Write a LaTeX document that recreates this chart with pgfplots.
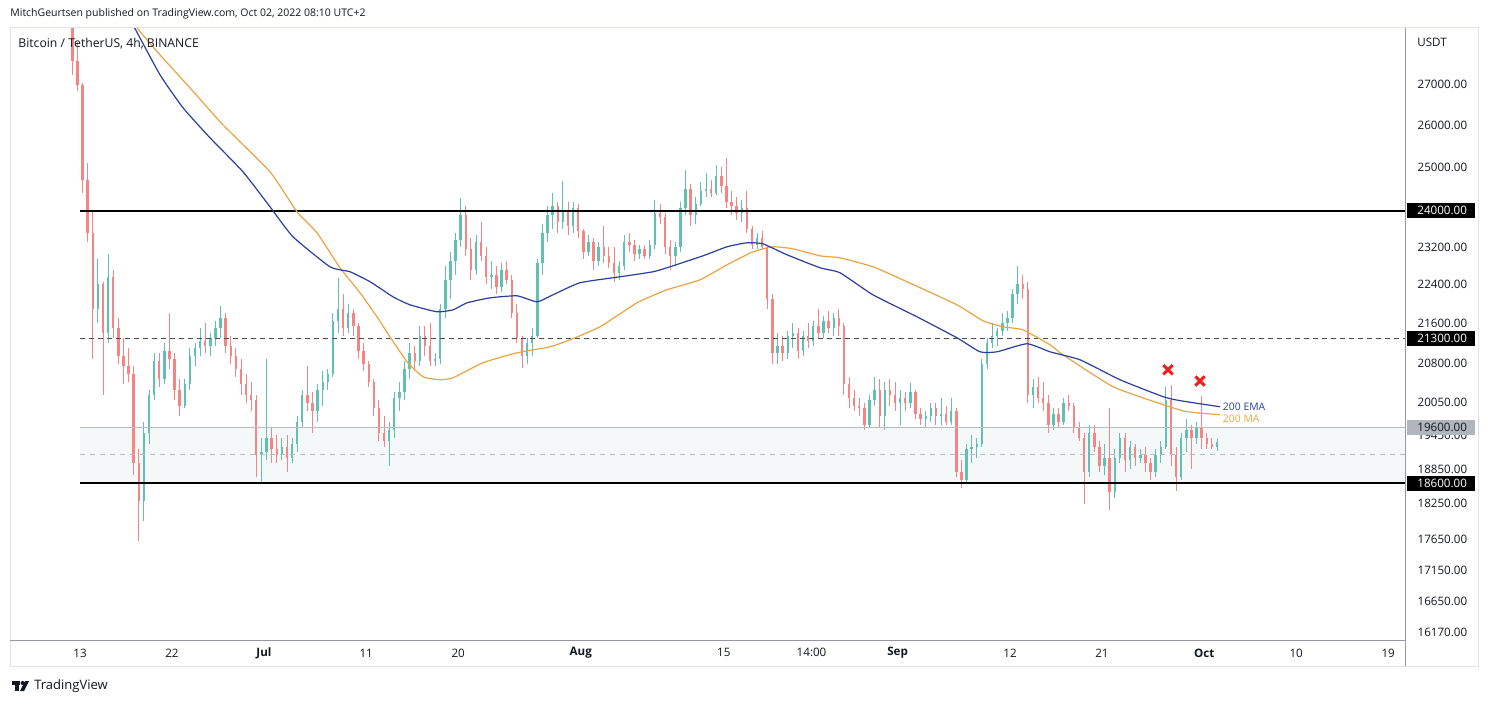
\documentclass[border=0pt]{standalone}
\usepackage{fontspec}
\setmainfont{Open Sans}
\usepackage{pgfplots}
\pgfplotsset{compat=1.18}
\usepackage{pgfplotstable}

\definecolor{upc}{HTML}{62C0B2}
\definecolor{dnc}{HTML}{F38585}
\definecolor{emac}{HTML}{2A3F9D}
\definecolor{mac}{HTML}{EBA444}
\definecolor{txt}{HTML}{131722}
\definecolor{sep}{HTML}{9598A1}
\definecolor{framec}{HTML}{E0E3EB}
\definecolor{zone}{HTML}{F5F8F8}
\definecolor{midline}{HTML}{B8BCC4}
\definecolor{xred}{HTML}{F01E1E}
\definecolor{boxgray}{HTML}{B2B5BE}

% 12h candles, t in days from Jun 13 00:00
\pgfplotstableread{
t o h l c
-1.25 29100 29300 28650 28700
-0.75 28700 28950 27250 27600
-0.25 27600 28100 26850 27000
0.25 27000 27050 24400 24700
0.75 24700 25100 23300 23500
1.25 23500 24000 20900 21900
1.75 21900 22950 21600 22400
2.25 22400 22450 20200 21400
2.75 21400 23050 21200 22550
3.25 22550 22700 21300 21500
3.75 21500 21700 20800 20950
4.25 20950 21300 20400 20750
4.75 20750 21100 20450 20600
5.25 20600 20750 18750 18950
5.75 18950 19200 17620 18300
6.25 18300 19700 17950 19500
6.75 19500 20300 19300 20200
7.25 20200 21000 20100 20850
7.75 20850 21000 20350 20500
8.25 20500 21200 20400 21050
8.75 21050 21800 20700 20900
9.25 20900 21000 20100 20300
9.75 20300 20500 19800 20000
10.25 20000 20500 19950 20400
10.75 20400 21100 20300 20950
11.25 20950 21200 20750 21100
11.75 21100 21500 20950 21250
12.25 21250 21600 21000 21150
12.75 21150 21400 20950 21300
13.25 21300 21650 21150 21500
13.75 21500 21950 21300 21700
14.25 21700 21800 21000 21150
14.75 21150 21350 20800 20950
15.25 20950 21100 20550 20700
15.75 20700 20900 20200 20400
16.25 20400 20600 20050 20200
16.75 20200 20450 19900 20100
17.25 20100 20200 18700 19100
17.75 19100 19400 18620 19150
18.25 19150 20900 19000 19400
18.75 19400 19600 18950 19200
19.25 19200 19450 18950 19100
19.75 19100 19400 19000 19250
20.25 19250 19450 18800 19050
20.75 19050 19400 18950 19300
21.25 19300 19800 19150 19700
21.75 19700 20300 19600 20200
22.25 20200 20750 19900 20050
22.75 20050 20250 19500 19900
23.25 19900 20400 19700 20300
23.75 20300 20650 20000 20450
24.25 20450 20700 20300 20600
24.75 20600 21800 20550 21650
25.25 21650 22530 21400 21900
25.75 21900 22200 21350 21500
26.25 21500 22000 21400 21800
26.75 21800 21900 21350 21550
27.25 21550 21600 20900 21050
27.75 21050 21200 20650 20800
28.25 20800 20850 20350 20450
28.75 20450 20500 19800 19950
29.25 19950 20100 19350 19500
29.75 19500 19800 19250 19350
30.25 19350 19700 18910 19550
30.75 19550 20250 19400 20150
31.25 20150 20450 19900 20250
31.75 20250 20850 20100 20700
32.25 20700 21200 20500 21000
32.75 21000 21150 20650 20850
33.25 20850 21550 20750 21350
33.75 21350 21550 20950 21150
34.25 21150 21600 20750 20850
34.75 20850 21000 20750 20900
35.25 20900 22000 20800 21900
35.75 21900 22800 21700 22500
36.25 22500 23100 22100 22900
36.75 22900 23500 22600 23350
37.25 23350 24280 23200 23900
37.75 23900 24100 23000 23150
38.25 23150 23400 22500 22700
38.75 22700 23450 22600 23300
39.25 23300 23750 22900 23000
39.75 23000 23200 22400 22550
40.25 22550 22900 22300 22600
40.75 22600 22800 22200 22350
41.25 22350 22850 22250 22700
41.75 22700 22900 22400 22500
42.25 22500 22600 21700 21800
42.75 21800 22000 21200 21300
43.25 21300 21350 20710 20950
43.75 20950 21300 20800 21200
44.25 21200 21500 20950 21350
44.75 21350 22950 21300 22850
45.25 22850 23700 22600 23500
45.75 23500 24100 23300 23900
46.25 23900 24400 23600 24100
46.75 24100 24200 23500 23750
47.25 23750 24670 23600 24000
47.75 24000 24200 23450 23650
48.25 23650 24200 23500 24050
48.75 24050 24150 23400 23550
49.25 23550 23600 22950 23100
49.75 23100 23450 23000 23300
50.25 23300 23400 22700 22900
50.75 22900 23300 22800 23200
51.25 23200 23650 22850 23000
51.75 23000 23200 22750 22850
52.25 22850 23200 22450 22650
52.75 22650 22900 22500 22800
53.25 22800 23450 22700 23300
53.75 23300 23500 23100 23250
54.25 23250 23350 22900 23050
54.75 23050 23250 22950 23150
55.25 23150 23250 22950 23000
55.75 23000 23350 22950 23250
56.25 23250 24250 23150 23950
56.75 23950 24150 23700 23850
57.25 23850 23950 23050 23200
57.75 23200 23350 22700 23000
58.25 23000 23300 22800 23200
58.75 23200 24200 23100 24050
59.25 24050 24920 23900 24500
59.75 24500 24600 23650 23900
60.25 23900 24300 23700 24150
60.75 24150 24650 24100 24450
61.25 24450 24850 24300 24500
61.75 24500 24700 24300 24400
62.25 24400 25050 24350 24800
62.75 24800 25000 24400 24550
63.25 24550 25210 24050 24200
63.75 24200 24450 23900 24100
64.25 24100 24300 23800 23950
64.75 23950 24250 23750 24050
65.25 24050 24450 23500 23600
65.75 23600 23650 23150 23250
66.25 23250 23500 23150 23400
66.75 23400 23550 23150 23200
67.25 23200 23250 21900 22100
67.75 22100 22200 20800 21000
68.25 21000 21400 20800 21150
68.75 21150 21350 20850 21000
69.25 21000 21450 20900 21350
69.75 21350 21600 21100 21400
70.25 21400 21500 20900 21050
70.75 21050 21450 20950 21350
71.25 21350 21600 21100 21250
71.75 21250 21650 21150 21550
72.25 21550 21900 21300 21400
72.75 21400 21750 21300 21650
73.25 21650 21850 21400 21500
73.75 21500 21800 21350 21700
74.25 21700 21900 21350 21550
74.75 21550 21600 20200 20400
75.25 20400 20550 19950 20150
75.75 20150 20300 19900 20000
76.25 20000 20150 19800 19950
76.75 19950 20050 19550 19650
77.25 19650 20200 19600 20100
77.75 20100 20550 20000 20300
78.25 20300 20500 19600 19800
78.75 19800 20450 19550 20300
79.25 20300 20500 20000 20200
79.75 20200 20450 19900 20050
80.25 20050 20300 19650 20150
80.75 20150 20250 19900 20050
81.25 20050 20430 19950 20250
81.75 20250 20300 19750 19850
82.25 19850 19950 19650 19750
82.75 19750 19900 19600 19800
83.25 19800 20050 19700 19950
83.75 19950 20050 19650 19800
84.25 19800 20150 19650 19850
84.75 19850 20000 19650 19700
85.25 19700 20150 19650 19900
85.75 19900 19950 18700 18800
86.25 18800 19000 18510 18650
86.75 18650 19300 18600 19200
87.25 19200 19450 18950 19250
87.75 19250 19400 19050 19300
88.25 19300 20900 19250 20800
88.75 20800 21300 20700 21200
89.25 21200 21600 21100 21350
89.75 21350 21500 21150 21450
90.25 21450 21800 21350 21600
90.75 21600 21850 21450 21700
91.25 21700 22300 21600 22200
91.75 22200 22800 22000 22400
92.25 22400 22600 22100 22300
92.75 22300 22450 20050 20200
93.25 20200 20500 19950 20350
93.75 20350 20550 20050 20150
94.25 20150 20450 19900 20050
94.75 20050 20200 19500 19650
95.25 19650 19950 19550 19850
95.75 19850 19950 19600 19700
96.25 19700 20150 19650 20050
96.75 20050 20200 19900 20000
97.25 20000 20050 19500 19600
97.75 19600 19700 19350 19400
98.25 19400 19500 18250 18800
98.75 18800 19650 18700 19500
99.25 19500 19650 19150 19250
99.75 19250 19350 18800 18900
100.25 18900 19300 18750 19050
100.75 19050 19960 18130 18450
101.25 18450 19200 18350 19050
101.75 19050 19500 18950 19400
102.25 19400 19500 18800 19000
102.75 19000 19350 18850 19250
103.25 19250 19300 18900 19050
103.75 19050 19200 18950 19100
104.25 19100 19250 18800 18950
104.75 18950 19050 18650 18800
105.25 18800 19200 18700 19100
105.75 19100 19350 18950 19250
106.25 19250 20350 19200 20100
106.75 20100 20380 18900 19100
107.25 19100 19250 18470 18700
107.75 18700 19500 18650 19400
108.25 19400 19750 19150 19550
108.75 19550 19650 18850 19400
109.25 19400 19700 19300 19600
109.75 19600 20185 19200 19400
110.25 19400 19500 19200 19300
110.75 19300 19400 19200 19250
111.25 19250 19380 19180 19330
}\candles

\begin{document}
\begin{tikzpicture}[x=1pt,y=1pt]
\fill[white] (0,0) rectangle (744,351.5);
\begin{axis}[
    at={(5pt,31.5pt)}, anchor=south west,
    scale only axis, width=697.5pt, height=306pt,
    xmin=-6.85, xmax=129.65,
    ymode=log, ymin=16063, ymax=28479,
    axis line style={draw=none},
    tick style={draw=none}, major tick length=0pt,
    minor ytick={},
    xtick={0,9,18,28,37,49,63,71.58,80,91,100,110,119,128},
    xticklabels={13,22,\textbf{Jul},11,20,\textbf{Aug},15,14:00,\textbf{Sep},12,21,\textbf{Oct},10,19},
    ytick={16170,16650,17150,17650,18250,18850,19450,20050,20800,21600,22400,23200,25000,26000,27000},
    yticklabels={16170.00,16650.00,17150.00,17650.00,18250.00,18850.00,\raisebox{-2.2pt}{19450.00},20050.00,20800.00,21600.00,22400.00,23200.00,25000.00,26000.00,27000.00},
    yticklabel pos=right,
    xticklabel style={font=\fontsize{5.8}{6}\selectfont, text=txt, anchor=center, yshift=-6.5pt},
    yticklabel style={font=\fontsize{5.8}{6}\selectfont, text=txt, anchor=west, xshift=2.8pt},
]
% support / resistance zone
\addplot[fill=zone, draw=none] coordinates {(0,18600) (129.65,18600) (129.65,19600) (0,19600)} -- cycle;

% wicks
\addplot[draw=none, mark=none, restrict expr to domain={\thisrow{c}-\thisrow{o}}{0:1000000},
    error bars/.cd, y dir=plus, y explicit, error mark=none,
    error bar style={draw=upc, line width=0.45pt}]
    table[x=t, y=l, y error expr=\thisrow{h}-\thisrow{l}] {\candles};
\addplot[draw=none, mark=none, restrict expr to domain={\thisrow{c}-\thisrow{o}}{-1000000:-0.5},
    error bars/.cd, y dir=plus, y explicit, error mark=none,
    error bar style={draw=dnc, line width=0.45pt}]
    table[x=t, y=l, y error expr=\thisrow{h}-\thisrow{l}] {\candles};
% bodies
\addplot[draw=none, mark=none, restrict expr to domain={\thisrow{c}-\thisrow{o}}{0:1000000},
    error bars/.cd, y dir=plus, y explicit, error mark=none,
    error bar style={draw=upc, line width=1.2pt}]
    table[x=t, y=o, y error expr=\thisrow{c}-\thisrow{o}] {\candles};
\addplot[draw=none, mark=none, restrict expr to domain={\thisrow{c}-\thisrow{o}}{-1000000:-0.5},
    error bars/.cd, y dir=plus, y explicit, error mark=none,
    error bar style={draw=dnc, line width=1.2pt}]
    table[x=t, y=c, y error expr=\thisrow{o}-\thisrow{c}] {\candles};

% horizontal levels
\addplot[midline, line width=0.5pt] coordinates {(0,19600) (129.65,19600)};
\addplot[midline, line width=0.45pt, dash pattern=on 2.5pt off 2.5pt] coordinates {(0,19100) (129.65,19100)};
\addplot[black, line width=0.8pt] coordinates {(0,24000) (129.65,24000)};
\addplot[black, line width=0.8pt] coordinates {(0,18600) (129.65,18600)};
\addplot[black!70, line width=0.6pt, dash pattern=on 2.5pt off 2pt] coordinates {(0,21300) (129.65,21300)};

% 200 MA
\addplot[mac, line width=0.6pt, smooth, tension=0.3] coordinates {
(5.3,28700)(5.58,28479)(7.83,27768)(10.76,26924)(13.99,26008)(18.59,24890)(21.23,23976)
(23.19,23509)(25.44,22752)(27.40,22226)(29.06,21732)(30.33,21329)(32.00,20837)(33.56,20546)
(35.23,20489)(36.50,20527)(39.43,20817)(42.76,21012)(45.99,21131)(47.95,21270)(50.88,21530)
(54.50,22018)(57.44,22289)(60.67,22497)(63.31,22815)(65.85,23094)(67.81,23203)(69.77,23159)
(72.41,23008)(74.36,22965)(77.59,22773)(80.92,22456)(85.81,21977)(88.36,21651)(90.31,21530)
(92.27,21469)(94.91,21171)(96.18,20973)(101.08,20356)(105.97,20017)(108.32,19887)(111.55,19832)
};
% 200 EMA
\addplot[emac, line width=0.6pt, smooth, tension=0.3] coordinates {
(4.9,28700)(5.19,28559)(7.83,27254)(10.08,26426)(12.72,25694)(15.95,24890)(18.59,24088)
(20.84,23421)(24.46,22773)(26.42,22667)(28.38,22456)(30.63,22142)(32.29,21977)(34.93,21834)
(36.50,21874)(37.87,22018)(40.12,22121)(42.76,22163)(44.72,22039)(46.28,22184)(48.92,22435)
(52.84,22561)(56.07,22667)(57.73,22773)(60.96,23008)(63.31,23203)(65.26,23290)(66.83,23268)
(69.18,23030)(72.41,22752)(74.36,22646)(77.59,22184)(81.90,21732)(85.81,21309)(88.06,21032)
(89.73,21032)(92.66,21191)(94.91,21032)(97.85,20875)(101.76,20489)(105.97,20167)(107.63,20092)
(111.55,19980)
};

% rejection marks
\addplot[only marks, mark=x, mark size=3.3pt, xred, line width=1.5pt] coordinates {(106.46,20682) (109.59,20463)};

\node[anchor=west, text=emac, font=\fontsize{5.2}{5}\selectfont, inner sep=0pt] at (axis cs:111.8,19980) {200 EMA};
\node[anchor=west, text=mac, font=\fontsize{5.2}{5}\selectfont, inner sep=0pt] at (axis cs:111.8,19760) {200 MA};

\coordinate (p24) at (axis cs:129.65,24000);
\coordinate (p213) at (axis cs:129.65,21300);
\coordinate (p196) at (axis cs:129.65,19600);
\coordinate (p186) at (axis cs:129.65,18600);
\end{axis}

% chart frame
\draw[framec, line width=0.5pt] (5,18.5) rectangle (739,337.5);
\draw[sep, line width=0.5pt] (702.5,18.5) -- (702.5,337.5);
\draw[sep, line width=0.5pt] (5,31.5) -- (702.5,31.5);

% price tags
\tikzset{tag/.style={anchor=west, inner xsep=5pt, inner ysep=0pt, minimum height=7.6pt, text width=24pt, align=left, font=\fontsize{5.8}{6}\selectfont}}
\node[tag, fill=black, text=white] at ([xshift=1pt]p24) {24000.00};
\node[tag, fill=black, text=white] at ([xshift=1pt]p213) {21300.00};
\node[tag, fill=boxgray, text=txt] at ([xshift=1pt]p196) {19600.00};
\node[tag, fill=black, text=white] at ([xshift=1pt]p186) {18600.00};

\node[anchor=west, text=txt, font=\fontsize{5.8}{6}\selectfont, inner sep=0pt] at (708.5,330.5) {USDT};
\node[anchor=west, text=txt, font=\fontsize{6.1}{6}\selectfont, inner sep=0pt] at (9,329.5) {Bitcoin / TetherUS, 4h, BINANCE};
\node[anchor=west, text=txt, font=\fontsize{5.25}{6}\selectfont, inner sep=0pt] at (5,344.5) {MitchGeurtsen published on TradingView.com, Oct 02, 2022 08:10 UTC+2};

% logo
\fill[txt] (6,11) rectangle (10,9);
\fill[txt] (7.5,11) rectangle (9.5,6);
\fill[txt] (11.3,10) circle (1);
\fill[txt] (10,6) -- (12,6) -- (14.5,11) -- (12.5,11) -- cycle;
\node[anchor=west, text=txt, font=\fontsize{6.5}{7}\selectfont, inner sep=0pt] at (17,8.5) {TradingView};

\pgfresetboundingbox
\path[use as bounding box] (0,0) rectangle (744,351.5);
\end{tikzpicture}
\end{document}
